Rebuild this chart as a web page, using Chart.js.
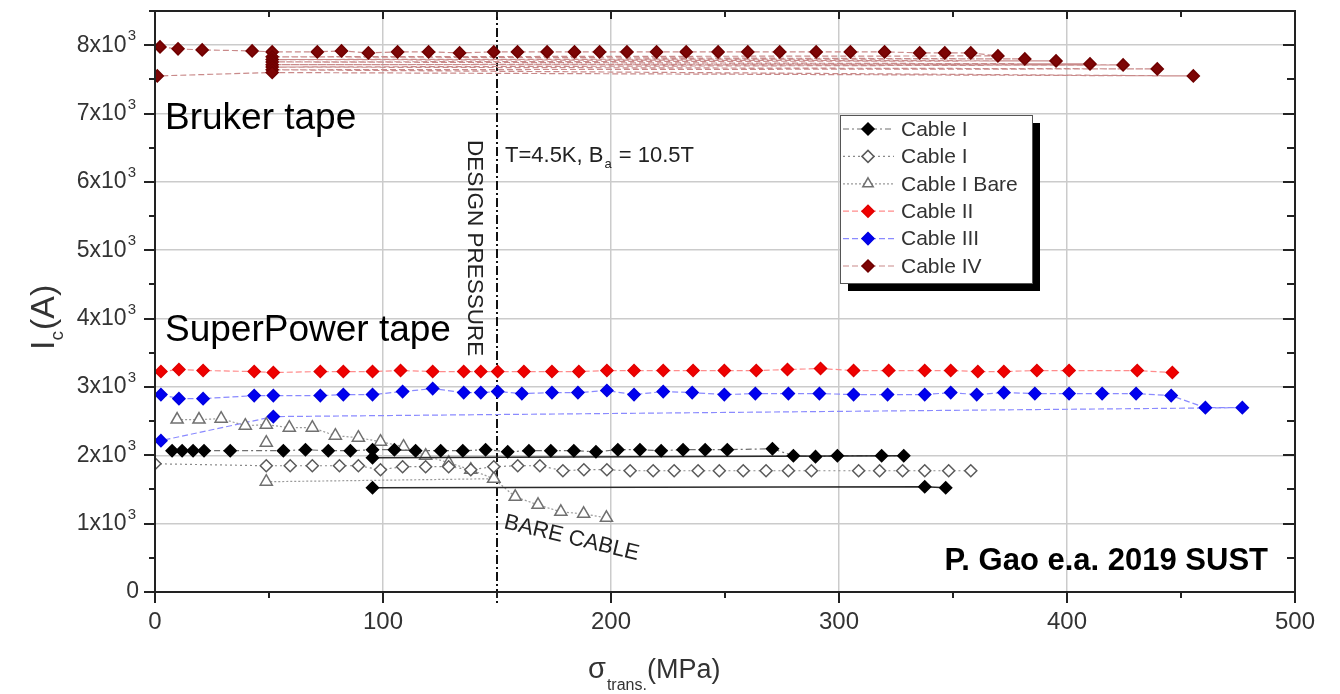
<!DOCTYPE html>
<html>
<head>
<meta charset="utf-8">
<title>Ic vs transverse stress</title>
<script src="https://cdn.jsdelivr.net/npm/chart.js@4.4.1/dist/chart.umd.min.js"></script>
<style>
  html, body { margin: 0; padding: 0; background: #fff; }
  canvas { display: block; }
</style>
</head>
<body>
<canvas id="chart" width="1340" height="694"></canvas>
<script>
// Critical current Ic (A) against transverse stress (MPa), as [stress, Ic] pairs.
// A pair with a null Ic breaks the connecting line.
const cableI = [
  [7.5,2067],[11.9,2067],[16.7,2067],[21.5,2067],[33.0,2067],[56.3,2067],[66.0,2082],[76.0,2067],
  [85.7,2067],[95.4,2082],[105.0,2082],[114.3,2067],[125.3,2067],[135.0,2067],[145.0,2082],
  [154.7,2052],[164.0,2067],[173.6,2067],[183.7,2067],[193.4,2052],[203.0,2082],[212.7,2082],
  [222.0,2067],[231.6,2082],[241.3,2082],[251.0,2082],[270.8,2096],[280.0,1994],[289.7,1980],
  [299.3,1994],[318.7,1994],[328.4,1994],[95.4,1964],[95.4,null],[95.4,1525],[337.6,1539],[346.8,1525]
];
const cableIOpen = [
  [0,1876],[48.8,1847],[59.3,1847],[69.0,1847],[80.9,1847],[89.2,1847],[98.9,1789],[108.6,1833],
  [118.7,1833],[128.8,1833],[138.5,1789],[148.6,1833],[159.1,1847],[168.8,1847],[178.9,1774],
  [188.1,1789],[198.2,1789],[208.4,1774],[218.5,1774],[227.7,1774],[238.2,1774],[247.5,1774],
  [258.0,1774],[268.0,1774],[277.8,1774],[287.9,1774],[308.6,1774],[317.8,1774],[327.9,1774],
  [337.6,1774],[348.1,1774],[357.8,1774]
];
const cableIBare = [
  [9.7,2522],[19.3,2522],[29.0,2536],[39.6,2434],[48.8,2448],[58.9,2404],[69.0,2404],[79.1,2287],
  [89.2,2258],[98.9,2199],[109.0,2126],[118.7,1994],[128.8,1891],[138.5,1789],[148.6,1657],
  [158.0,1393],[168.0,1275],[178.0,1173],[188.0,1143],[198.0,1085],[198.0,null],
  [48.8,1613],[148.6,1657],[148.6,null],[48.8,2184]
];
const cableII = [
  [2.6,3225],[10.5,3255],[21.1,3240],[43.5,3225],[51.9,3211],[72.5,3225],[82.6,3225],[95.4,3225],
  [107.7,3240],[121.8,3225],[135.4,3225],[142.9,3225],[150.3,3225],[161.8,3225],[174.1,3225],
  [185.9,3225],[198.2,3240],[210.1,3240],[222.9,3240],[236.0,3240],[249.7,3240],[263.7,3240],
  [277.4,3255],[291.9,3269],[306.4,3240],[321.8,3240],[337.6,3240],[349.0,3240],[360.9,3225],
  [372.3,3225],[386.8,3240],[400.9,3240],[430.8,3240],[446.2,3211]
];
const cableIII = [
  [2.6,2888],[10.5,2829],[21.1,2829],[43.5,2873],[51.9,2873],[72.5,2873],[82.6,2888],[95.4,2888],
  [108.6,2932],[121.8,2976],[135.4,2917],[142.9,2917],[150.3,2932],[160.9,2903],[174.1,2917],
  [185.5,2917],[198.2,2947],[210.1,2888],[222.9,2932],[235.6,2917],[249.7,2888],[263.3,2903],
  [277.8,2903],[291.4,2903],[306.4,2888],[321.3,2888],[337.6,2888],[349.0,2917],[360.4,2888],
  [372.3,2917],[385.9,2903],[400.9,2903],[415.4,2903],[430.3,2903],[445.7,2873],[460.7,2697],
  [476.9,2697],[51.9,2566],[2.6,2214]
];
const cableIV = [
  [2.2,7975],[10.1,7946],[20.7,7931],[42.6,7916],[51.4,7902],[71.2,7902],[81.8,7916],[93.6,7887],
  [106.4,7902],[120.0,7902],[133.6,7887],[148.6,7902],[159.0,7902],[172.0,7902],[184.0,7902],
  [195.0,7902],[207.0,7902],[220.0,7902],[233.0,7902],[247.0,7902],[260.0,7902],[274.0,7902],
  [290.0,7902],[305.0,7902],[320.0,7902],[335.4,7887],[346.4,7887],[357.8,7887],[369.7,7843],
  [51.4,7830],[381.5,7799],[51.4,7790],[395.2,7770],[51.4,7755],[410.1,7726],[51.4,7715],
  [424.6,7711],[51.4,7680],[439.6,7653],[51.4,7640],[455.4,7550],[51.4,7600],[1.0,7550]
];
const seriesLabels = ['Cable I', 'Cable I', 'Cable I Bare', 'Cable II', 'Cable III', 'Cable IV'];
const xTickValues = [0, 100, 200, 300, 400, 500];
const yTickValues = [0, 1000, 2000, 3000, 4000, 5000, 6000, 7000, 8000];
const designPressure = 150;

// index in cableI where the unloading / reloading runs begin (drawn as solid lines)
const cableISolidFrom = 31;

const FONT = "'Liberation Sans', Arial, Helvetica, sans-serif";
const toXY = arr => arr.map(p => ({ x: p[0], y: p[1] }));

function series(label, data, style) {
  return Object.assign({
    label,
    data: toXY(data),
    showLine: true,
    tension: 0,
    borderWidth: 1.2,
    pointRadius: 6,
    pointHoverRadius: 6,
    pointBorderWidth: 1.5,
    pointStyle: 'rectRot',
    spanGaps: false
  }, style);
}

const datasets = [
  series(seriesLabels[0], cableI, {
    borderColor: '#6f6f6f', borderDash: [6, 3, 2, 3],
    pointBackgroundColor: '#000', pointBorderColor: '#000',
    segment: {
      borderColor: c => (c.p0DataIndex >= cableISolidFrom ? '#2a2a2a' : undefined),
      borderDash: c => (c.p0DataIndex >= cableISolidFrom ? [] : undefined),
      borderWidth: c => (c.p0DataIndex >= cableISolidFrom ? 1.6 : undefined)
    }
  }),
  series(seriesLabels[1], cableIOpen, {
    borderColor: '#8a8a8a', borderDash: [2, 3],
    pointBackgroundColor: '#fff', pointBorderColor: '#5a5a5a'
  }),
  series(seriesLabels[2], cableIBare, {
    borderColor: '#9a9a9a', borderDash: [2, 2],
    pointStyle: 'triangle', pointRadius: 7,
    pointBackgroundColor: '#fff', pointBorderColor: '#707070'
  }),
  series(seriesLabels[3], cableII, {
    borderColor: '#ff8c8c', borderDash: [6, 3],
    pointBackgroundColor: '#f00000', pointBorderColor: '#e00000'
  }),
  series(seriesLabels[4], cableIII, {
    borderColor: '#8a8aff', borderDash: [6, 3],
    pointBackgroundColor: '#0000f0', pointBorderColor: '#0000e0'
  }),
  series(seriesLabels[5], cableIV, {
    borderColor: '#c98a8a', borderDash: [6, 3],
    pointBackgroundColor: '#7d0505', pointBorderColor: '#700000'
  })
];

// Frame with inward/outward ticks, reference line, annotations, axis titles and legend box.
const decorations = {
  id: 'decorations',
  beforeDatasetsDraw(chart) {
    const { ctx, chartArea: a, scales: { x } } = chart;
    const px = x.getPixelForValue(designPressure);
    ctx.save();
    ctx.strokeStyle = '#111';
    ctx.lineWidth = 2;
    ctx.setLineDash([9, 3, 2, 3]);
    ctx.beginPath();
    ctx.moveTo(px, a.top);
    ctx.lineTo(px, a.bottom + 12);
    ctx.stroke();
    ctx.restore();
  },
  afterDraw(chart) {
    const { ctx, chartArea: a, scales: { x, y } } = chart;
    ctx.save();

    // plot frame
    ctx.strokeStyle = '#222';
    ctx.lineWidth = 2;
    ctx.strokeRect(a.left, a.top, a.right - a.left, a.bottom - a.top);

    // tick marks: outward on left/bottom, inward on right/top
    ctx.lineWidth = 2;
    for (let v = 0; v <= 8500; v += 500) {
      const py = Math.round(y.getPixelForValue(v));
      const major = v % 1000 === 0;
      ctx.beginPath();
      ctx.moveTo(a.left - (major ? 11 : 6), py); ctx.lineTo(a.left, py);
      ctx.moveTo(a.right, py); ctx.lineTo(a.right - (major ? 12 : 8), py);
      ctx.stroke();
    }
    for (let v = 0; v <= 500; v += 50) {
      const px = Math.round(x.getPixelForValue(v));
      const major = v % 100 === 0;
      ctx.beginPath();
      ctx.moveTo(px, a.bottom); ctx.lineTo(px, a.bottom + (major ? 11 : 6));
      ctx.moveTo(px, a.top); ctx.lineTo(px, a.top + (major ? 8 : 6));
      ctx.stroke();
    }

    // y tick labels: mantissa x10 with a raised exponent
    ctx.fillStyle = '#333';
    ctx.textBaseline = 'middle';
    yTickValues.forEach(v => {
      const py = y.getPixelForValue(v);
      ctx.textAlign = 'right';
      if (v === 0) {
        ctx.font = `23px ${FONT}`;
        ctx.fillText('0', 139, py);
        return;
      }
      ctx.font = `15px ${FONT}`;
      ctx.fillText('3', 136, py - 9);
      const ew = ctx.measureText('3').width;
      ctx.font = `23px ${FONT}`;
      ctx.fillText(`${v / 1000}x10`, 136 - ew - 1, py);
    });
    ctx.textAlign = 'left';

    // tape annotations
    ctx.fillStyle = '#000';
    ctx.textBaseline = 'alphabetic';
    ctx.font = `37px ${FONT}`;
    ctx.fillText('Bruker tape', 165, 129);
    ctx.fillText('SuperPower tape', 165, 341);

    // measurement conditions
    ctx.fillStyle = '#222';
    ctx.font = `22px ${FONT}`;
    let tx = 505;
    ctx.fillText('T=4.5K, B', tx, 162);
    tx += ctx.measureText('T=4.5K, B').width;
    ctx.font = `13px ${FONT}`;
    ctx.fillText('a', tx + 1, 168);
    tx += ctx.measureText('a').width + 2;
    ctx.font = `22px ${FONT}`;
    ctx.fillText(' = 10.5T', tx, 162);

    // design pressure label, reading downward
    ctx.save();
    ctx.translate(474, 140);
    ctx.rotate(Math.PI / 2);
    ctx.font = `22.5px ${FONT}`;
    ctx.textBaseline = 'middle';
    ctx.fillText('DESIGN PRESSURE', 0, 0);
    ctx.restore();

    // bare cable label
    ctx.save();
    ctx.translate(503, 528);
    ctx.rotate(13.5 * Math.PI / 180);
    ctx.font = `22px ${FONT}`;
    ctx.fillText('BARE CABLE', 0, 0);
    ctx.restore();

    // source note
    ctx.fillStyle = '#000';
    ctx.font = `bold 31px ${FONT}`;
    ctx.textAlign = 'right';
    ctx.fillText('P. Gao e.a. 2019 SUST', 1268, 570);
    ctx.textAlign = 'left';

    // x axis title: sigma_trans.(MPa)
    ctx.fillStyle = '#333';
    let ax = 588;
    ctx.font = `29px ${FONT}`;
    ctx.fillText('σ', ax, 678);
    ax += ctx.measureText('σ').width + 1;
    ctx.font = `16px ${FONT}`;
    ctx.fillText('trans.', ax, 690);
    ax += ctx.measureText('trans.').width;
    ctx.font = `27px ${FONT}`;
    ctx.fillText('(MPa)', ax, 678);

    // y axis title: I_c(A)
    ctx.save();
    ctx.translate(54, 350);
    ctx.rotate(-Math.PI / 2);
    let ay = 0;
    ctx.font = `34px ${FONT}`;
    ctx.fillText('I', ay, 0);
    ay += ctx.measureText('I').width;
    ctx.font = `19px ${FONT}`;
    ctx.fillText('c', ay, 9);
    ay += ctx.measureText('c').width + 1;
    ctx.font = `34px ${FONT}`;
    ctx.fillText('(A)', ay, 0);
    ctx.restore();

    // legend box with drop shadow
    const bx = 840, by = 115, bw = 192, bh = 168;
    ctx.fillStyle = '#000';
    ctx.fillRect(bx + 8, by + 8, bw, bh);
    ctx.fillStyle = '#fff';
    ctx.fillRect(bx, by, bw, bh);
    ctx.strokeStyle = '#555';
    ctx.lineWidth = 1;
    ctx.strokeRect(bx + 0.5, by + 0.5, bw, bh);

    chart.data.datasets.forEach((ds, i) => {
      const ry = 129 + i * 27.4;
      ctx.save();
      ctx.strokeStyle = ds.borderColor;
      ctx.lineWidth = 1.2;
      ctx.setLineDash(ds.borderDash || []);
      ctx.beginPath();
      ctx.moveTo(843, ry); ctx.lineTo(894, ry);
      ctx.stroke();
      ctx.restore();
      ctx.save();
      ctx.fillStyle = ds.pointBackgroundColor;
      ctx.strokeStyle = ds.pointBorderColor;
      ctx.lineWidth = 1.5;
      Chart.helpers.drawPoint(ctx, {
        pointStyle: ds.pointStyle, radius: 6, rotation: 0, borderWidth: 1.5
      }, 868, ry);
      ctx.restore();
      ctx.fillStyle = '#333';
      ctx.font = `21px ${FONT}`;
      ctx.textBaseline = 'middle';
      ctx.fillText(ds.label, 901, ry + 1);
      ctx.textBaseline = 'alphabetic';
    });

    ctx.restore();
  }
};

new Chart(document.getElementById('chart'), {
  type: 'scatter',
  data: { datasets },
  options: {
    responsive: false,
    animation: false,
    events: [],
    layout: { padding: { top: 11, right: 45, left: 0, bottom: 0 } },
    plugins: { legend: { display: false }, tooltip: { enabled: false } },
    scales: {
      x: {
        type: 'linear', min: 0, max: 500,
        afterFit(s) { s.height = 102; s.paddingLeft = 0; s.paddingRight = 0; },
        afterBuildTicks(s) { s.ticks = xTickValues.map(v => ({ value: v })); },
        grid: { color: '#cbcbcb', lineWidth: 1.5, drawTicks: false },
        border: { display: false },
        ticks: {
          padding: 16, color: '#333',
          font: { family: FONT, size: 24 },
          callback: v => String(v)
        }
      },
      y: {
        type: 'linear', min: 0, max: 8500,
        afterFit(s) { s.width = 155; s.paddingTop = 0; s.paddingBottom = 0; },
        afterBuildTicks(s) { s.ticks = yTickValues.map(v => ({ value: v })); },
        grid: { color: '#cbcbcb', lineWidth: 1.5, drawTicks: false },
        border: { display: false },
        ticks: { display: false }
      }
    }
  },
  plugins: [decorations]
});
</script>
</body>
</html>
